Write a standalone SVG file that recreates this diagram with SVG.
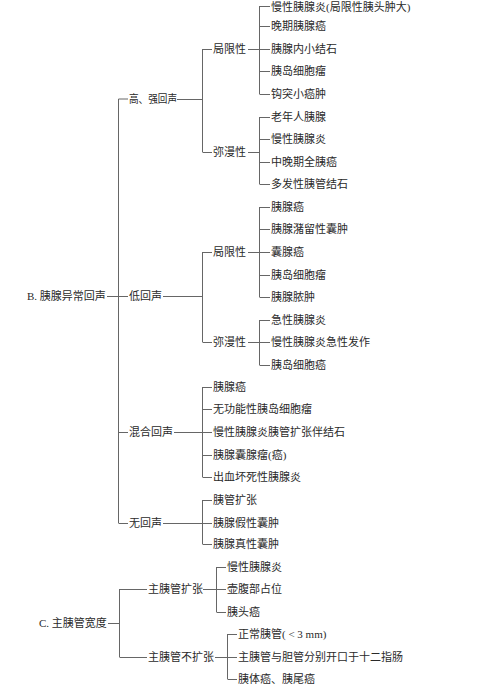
<svg xmlns="http://www.w3.org/2000/svg" width="500" height="690" viewBox="0 0 500 690">
<style>
text{font-family:"Liberation Serif","Noto Sans CJK SC",serif;font-size:11px;fill:#2a2a2a}
.c path{stroke:#666;stroke-width:1;fill:none}
</style>
<rect width="500" height="690" fill="#fff"/>
<g class="c" id="connectors">
<path d="M107,296.5H118.5M118.5,99V523M118.5,99H128M118.5,296.5H128M118.5,432.5H128M118.5,523.5H128"/>
<path d="M177,99.5H202.5M202.5,49V152M202.5,49.5H212M202.5,152.5H212"/>
<path d="M248,49.5H259.5M259.5,6V94M259.5,6.5H270M259.5,26.5H270M259.5,49.5H270M259.5,71.5H270M259.5,94.5H270"/>
<path d="M248,152.5H259.5M259.5,117V184M259.5,117.5H270M259.5,139.5H270M259.5,162.5H270M259.5,184.5H270"/>
<path d="M163,296.5H202.5M202.5,252V342M202.5,252.5H212M202.5,342.5H212"/>
<path d="M248,252.5H259.5M259.5,207V297M259.5,207.5H270M259.5,229.5H270M259.5,252.5H270M259.5,275.5H270M259.5,297.5H270"/>
<path d="M248,342.5H259.5M259.5,320V365M259.5,320.5H270M259.5,342.5H270M259.5,365.5H270"/>
<path d="M174,432.5H202.5M202.5,387V477M202.5,387.5H212M202.5,409.5H212M202.5,432.5H212M202.5,455.5H212M202.5,477.5H212"/>
<path d="M163,523.5H202.5M202.5,500V544M202.5,500.5H212M202.5,523.5H212M202.5,544.5H212"/>
<path d="M108,623.5H119.5M119.5,589V657M119.5,589.5H147M119.5,657.5H147"/>
<path d="M203,589.5H216.5M216.5,567V612M216.5,567.5H226M216.5,589.5H226M216.5,612.5H226"/>
<path d="M215,657.5H227.5M227.5,634V679M227.5,634.5H237M227.5,657.5H237M227.5,679.5H237"/>
</g>
<g id="B"><text x="27" y="300">B. 胰腺异常回声</text></g>
<g id="B1"><text x="129" y="103" textLength="48" lengthAdjust="spacingAndGlyphs">高、强回声</text></g>
<g id="B1a"><text x="213" y="53">局限性</text></g>
<g id="B1a1"><text x="271" y="10.5">慢性胰腺炎(局限性胰头肿大)</text></g>
<g id="B1a2"><text x="271" y="30">晚期胰腺癌</text></g>
<g id="B1a3"><text x="271" y="53">胰腺内小结石</text></g>
<g id="B1a4"><text x="271" y="75">胰岛细胞瘤</text></g>
<g id="B1a5"><text x="271" y="98">钩突小癌肿</text></g>
<g id="B1b"><text x="213" y="156">弥漫性</text></g>
<g id="B1b1"><text x="271" y="121">老年人胰腺</text></g>
<g id="B1b2"><text x="271" y="143">慢性胰腺炎</text></g>
<g id="B1b3"><text x="271" y="166">中晚期全胰癌</text></g>
<g id="B1b4"><text x="271" y="188">多发性胰管结石</text></g>
<g id="B2"><text x="129" y="300">低回声</text></g>
<g id="B2a"><text x="213" y="256">局限性</text></g>
<g id="B2a1"><text x="271" y="211">胰腺癌</text></g>
<g id="B2a2"><text x="271" y="233">胰腺潴留性囊肿</text></g>
<g id="B2a3"><text x="271" y="256">囊腺癌</text></g>
<g id="B2a4"><text x="271" y="279">胰岛细胞瘤</text></g>
<g id="B2a5"><text x="271" y="301">胰腺脓肿</text></g>
<g id="B2b"><text x="213" y="346">弥漫性</text></g>
<g id="B2b1"><text x="271" y="324">急性胰腺炎</text></g>
<g id="B2b2"><text x="271" y="346">慢性胰腺炎急性发作</text></g>
<g id="B2b3"><text x="271" y="369">胰岛细胞癌</text></g>
<g id="B3"><text x="129" y="436">混合回声</text></g>
<g id="B3a"><text x="213" y="391">胰腺癌</text></g>
<g id="B3b"><text x="213" y="413">无功能性胰岛细胞瘤</text></g>
<g id="B3c"><text x="213" y="436">慢性胰腺炎胰管扩张伴结石</text></g>
<g id="B3d"><text x="213" y="459">胰腺囊腺瘤(癌)</text></g>
<g id="B3e"><text x="213" y="481">出血坏死性胰腺炎</text></g>
<g id="B4"><text x="129" y="527">无回声</text></g>
<g id="B4a"><text x="213" y="504">胰管扩张</text></g>
<g id="B4b"><text x="213" y="527">胰腺假性囊肿</text></g>
<g id="B4c"><text x="213" y="548">胰腺真性囊肿</text></g>
<g id="C"><text x="39" y="627">C. 主胰管宽度</text></g>
<g id="C1"><text x="148" y="593">主胰管扩张</text></g>
<g id="C1a"><text x="227" y="571">慢性胰腺炎</text></g>
<g id="C1b"><text x="227" y="593">壶腹部占位</text></g>
<g id="C1c"><text x="227" y="616">胰头癌</text></g>
<g id="C2"><text x="148" y="661">主胰管不扩张</text></g>
<g id="C2a"><text x="238" y="638">正常胰管( &lt; 3 mm)</text></g>
<g id="C2b"><text x="238" y="661">主胰管与胆管分别开口于十二指肠</text></g>
<g id="C2c"><text x="238" y="683">胰体癌、胰尾癌</text></g>
</svg>
